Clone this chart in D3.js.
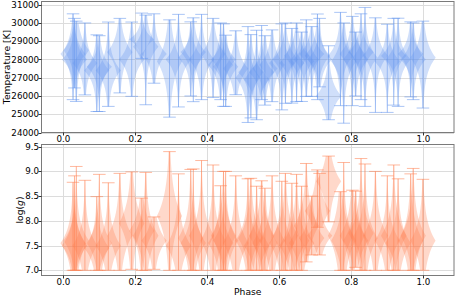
<!DOCTYPE html>
<html><head><meta charset="utf-8">
<script src="https://cdn.jsdelivr.net/npm/d3@7"></script>
<style>body{margin:0;background:#fff}svg{display:block}text{font-family:"DejaVu Sans",sans-serif;fill:#000}</style>
</head><body><svg id="c" width="457" height="298"></svg>
<script>
// Phase positions of the violins
const positions = [0.027,0.031,0.036,0.060,0.093,0.100,0.125,0.157,0.190,0.218,0.229,0.252,0.295,0.320,0.354,0.361,0.384,0.416,0.437,0.445,0.451,0.479,0.513,0.521,0.537,0.551,0.560,0.580,0.607,0.617,0.635,0.648,0.662,0.675,0.690,0.706,0.712,0.737,0.770,0.779,0.803,0.812,0.827,0.838,0.867,0.900,0.918,0.930,0.965,0.972,0.999];
// Temperature: mode, spread, min, max
const tMode = [28300,28000,28500,27800,27400,27600,27400,28400,28000,29100,28700,28300,27900,28000,28100,28400,28000,28300,27700,28000,27600,27500,27000,27300,26900,27300,27500,27700,27800,28000,27800,28200,27900,28000,28300,28200,28000,26000,28200,27900,28300,28000,28400,28100,28200,27900,28200,28000,28300,28000,28100];
const tSpread = [750,625,875,690,690,625,750,810,750,440,750,690,1100,750,625,690,750,750,690,625,690,750,750,690,750,625,690,750,750,690,625,690,625,690,625,690,625,750,750,875,750,690,625,750,750,690,625,690,625,690,875];
const tMin = [25800,26440,25700,26060,25150,25150,25430,26170,25980,28060,25520,26700,24840,25400,26000,25690,25800,25920,25800,25430,25430,26070,24550,24800,24700,25800,25500,25690,25240,25600,25610,25700,25700,25980,25980,25800,26500,24700,25470,24510,25470,26000,25800,25430,25100,25100,25500,25430,25950,25800,25340];
const tMax = [30500,30250,30100,30000,29350,29300,30050,30250,30050,30540,30430,30500,30170,30470,30060,30280,30470,30250,30000,29950,29330,29570,29800,29360,29600,29860,29300,29620,29950,30000,29700,30000,29500,30170,29800,30490,30250,28750,30580,30000,30360,29500,30500,30850,30280,29930,30250,30260,30060,30000,30100];
// log(g): mode, spread, min, max
const gMode = [7.55,7.5,7.6,7.5,7.45,7.55,7.5,7.7,7.95,7.8,7.7,7.6,8.1,7.5,7.65,7.55,7.7,7.6,7.55,7.7,7.6,7.55,7.6,7.65,7.5,7.7,7.55,7.6,7.55,7.7,7.5,7.6,7.55,7.9,7.65,8.2,7.7,8.8,7.7,7.6,7.7,7.6,7.75,7.65,7.7,7.6,7.7,7.55,7.6,7.7,7.6];
const gSpread = [0.35,0.3,0.35,0.35,0.3,0.35,0.35,0.4,0.45,0.35,0.4,0.3,0.5,0.35,0.4,0.35,0.4,0.4,0.35,0.4,0.35,0.4,0.35,0.4,0.35,0.4,0.35,0.4,0.35,0.4,0.35,0.4,0.35,0.4,0.3,0.35,0.25,0.35,0.45,0.4,0.4,0.35,0.4,0.4,0.4,0.35,0.4,0.35,0.4,0.4,0.4];
const gMin = [7,7,7,7,7,7,7,7,7.02,7,7,7.02,7,7,7,7,7,7,7,7,7,7,7,7,7,7,7,7,7,7,7,7,7,7.17,7.31,7.87,7.31,7.98,7,7,7,7.06,7,7,7,7,7,7,7,7,7];
const gMax = [8.78,8.91,9.1,8.82,8.49,8.94,8.77,8.96,8.99,8.46,8.98,8.08,9.4,8.95,9.04,9.05,9.22,9.13,8.71,9.0,9.0,8.91,8.85,8.86,8.7,8.81,8.66,8.91,8.8,8.96,8.76,8.94,8.7,9.16,8.5,9.03,8.96,9.31,8.59,9.18,8.62,8.6,9.26,9.15,9.0,8.91,9.13,8.85,8.95,9.06,8.84];
const tTicks = [24000,25000,26000,27000,28000,29000,30000,31000];
const gTicks = [7.0,7.5,8.0,8.5,9.0,9.5];
const xTicks = [0.0,0.2,0.4,0.6,0.8,1.0];

const svg = d3.select("#c");
const L = 41.5, R = 454;
const x = d3.scaleLinear().domain([-0.0606,1.0853]).range([L,R]);
const violinW = 0.07;

function panel(opts){
  const {top,bottom,domain,ticks,fmt,modes,spreads,mins,maxs,color,label,labelX,id} = opts;
  const y = d3.scaleLinear().domain(domain).range([bottom,top]);
  const g = svg.append("g");
  svg.append("clipPath").attr("id",id).append("rect").attr("x",L).attr("y",top).attr("width",R-L).attr("height",bottom-top);
  g.selectAll(".gx").data(xTicks).join("line").attr("x1",d=>Math.round(x(d))+0.5).attr("x2",d=>Math.round(x(d))+0.5)
    .attr("y1",top).attr("y2",bottom).attr("stroke","#dcdcdc").attr("stroke-width",1);
  g.selectAll(".gy").data(ticks).join("line").attr("y1",d=>Math.round(y(d))+0.5).attr("y2",d=>Math.round(y(d))+0.5)
    .attr("x1",L).attr("x2",R).attr("stroke","#dcdcdc").attr("stroke-width",1);
  const plot = g.append("g").attr("clip-path",`url(#${id})`);
  const line = d3.line().x(d=>x(d[0])).y(d=>y(d[1]));
  positions.forEach((p,i)=>{
    const lo=mins[i], hi=maxs[i], m=modes[i], s=spreads[i];
    const N=120, pts=[];
    for(let k=0;k<=N;k++){const v=lo+(hi-lo)*k/N; pts.push([v,Math.exp(-Math.abs(v-m)/s)]);}
    const mx=d3.max(pts,d=>d[1]);
    const right=pts.map(d=>[p+d[1]/mx*violinW/2,d[0]]);
    const left=pts.slice().reverse().map(d=>[p-d[1]/mx*violinW/2,d[0]]);
    plot.append("path").attr("d",line(right.concat(left))+"Z").attr("fill",color).attr("fill-opacity",0.3).attr("stroke","none");
  });
  positions.forEach((p,i)=>{
    const lo=mins[i], hi=maxs[i];
    const add=(x1,y1,x2,y2)=>plot.append("line").attr("x1",x1).attr("y1",y1).attr("x2",x2).attr("y2",y2)
      .attr("stroke",color).attr("stroke-opacity",0.55).attr("stroke-width",1);
    add(x(p),y(lo),x(p),y(hi));
    add(x(p-violinW/4),y(lo),x(p+violinW/4),y(lo));
    add(x(p-violinW/4),y(hi),x(p+violinW/4),y(hi));
  });
  g.append("rect").attr("x",L).attr("y",top).attr("width",R-L).attr("height",bottom-top).attr("fill","none").attr("stroke","#7a7a7a").attr("stroke-width",1);
  const ya = g.selectAll(".yt").data(ticks).join("g");
  ya.append("line").attr("x1",L-3).attr("x2",L).attr("y1",d=>Math.round(y(d))+0.5).attr("y2",d=>Math.round(y(d))+0.5).attr("stroke","#333");
  ya.append("text").attr("x",L-2.5).attr("y",d=>y(d)).attr("dy","0.35em").attr("text-anchor","end").attr("font-size",8.7).text(fmt);
  const xa = g.selectAll(".xt").data(xTicks).join("g");
  xa.append("line").attr("y1",bottom).attr("y2",bottom+3).attr("x1",d=>Math.round(x(d))+0.5).attr("x2",d=>Math.round(x(d))+0.5).attr("stroke","#333");
  xa.append("text").attr("x",d=>x(d)).attr("y",bottom+9.3).attr("text-anchor","middle").attr("font-size",8.7).text(d=>d.toFixed(1));
  const yl = g.append("text").attr("transform",`translate(${labelX},${(top+bottom)/2}) rotate(-90)`).attr("text-anchor","middle").attr("font-size",9.2);
  label(yl);
}

panel({id:"c1",top:1.5,bottom:132.5,domain:[24000,31175],ticks:tTicks,fmt:d=>d,modes:tMode,spreads:tSpread,mins:tMin,maxs:tMax,color:"#6495ED",labelX:9.5,
  label:t=>t.text("Temperature [K]")});
panel({id:"c2",top:144.5,bottom:275.5,domain:[6.895,9.544],ticks:gTicks,fmt:d=>d.toFixed(1),modes:gMode,spreads:gSpread,mins:gMin,maxs:gMax,color:"#FF7F50",labelX:23,
  label:t=>{t.append("tspan").text("log(");t.append("tspan").attr("font-style","italic").text("g");t.append("tspan").text(")");}});
svg.append("text").attr("x",(L+R)/2).attr("y",295).attr("text-anchor","middle").attr("font-size",9.2).text("Phase");
</script></body></html>
